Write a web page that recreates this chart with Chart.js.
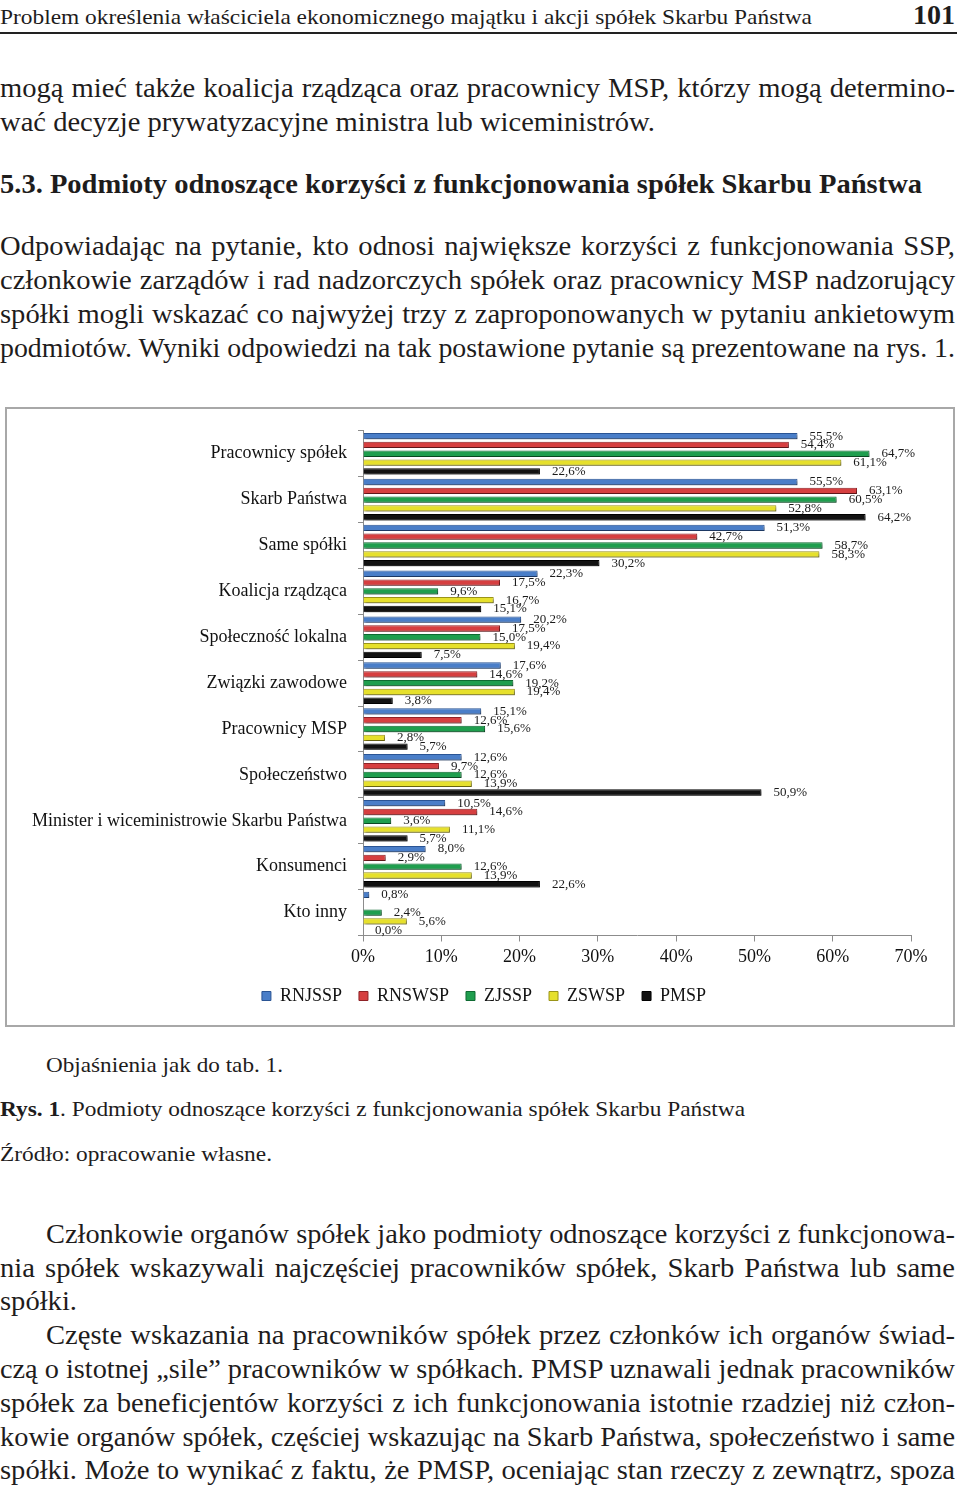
<!DOCTYPE html>
<html lang="pl">
<head>
<meta charset="utf-8">
<title>Podmioty odnoszące korzyści z funkcjonowania spółek Skarbu Państwa</title>
<script src="https://cdn.jsdelivr.net/npm/chart.js@4.4.1/dist/chart.umd.min.js"></script>
<style>
  html, body { margin: 0; padding: 0; background: #fff; }
  body { width: 960px; height: 1487px; position: relative; overflow: hidden;
         font-family: 'Liberation Serif', 'Times New Roman', serif; color: #1e1c1c; }
  .ln { position: absolute; white-space: nowrap; transform-origin: 0 50%; }
  .f28 { font-size: 28px; line-height: 34px; }
  .f22 { font-size: 22px; line-height: 26px; }
  .f21 { font-size: 21px; line-height: 26px; }
  .b { font-weight: bold; }
  #rule { position: absolute; left: 0; top: 32px; width: 957px; height: 2px; background: #222; }
  #chartBox { position: absolute; left: 5px; top: 407px; width: 950px; height: 620px;
              border: 2px solid #a8a8a8; box-sizing: border-box; }
  #chartWrap { position: relative; width: 946px; height: 616px; }
</style>
</head>
<body>

<div class="ln f21" style="left:0;top:4px" data-w="812">Problem określenia właściciela ekonomicznego majątku i akcji spółek Skarbu Państwa</div>
<div class="ln f28 b" style="left:913px;top:-2px" data-w="42">101</div>
<div id="rule"></div>

<div class="ln f28 full" style="left:0;top:71px" data-w="955">mogą mieć także koalicja rządząca oraz pracownicy MSP, którzy mogą determino-</div>
<div class="ln f28 ref" style="left:0;top:105px" data-w="655">wać decyzje prywatyzacyjne ministra lub wiceministrów.</div>

<div class="ln f28 b" style="left:0;top:167px" data-w="922">5.3. Podmioty odnoszące korzyści z funkcjonowania spółek Skarbu Państwa</div>

<div class="ln f28 full" style="left:0;top:229px" data-w="955">Odpowiadając na pytanie, kto odnosi największe korzyści z funkcjonowania SSP,</div>
<div class="ln f28 full" style="left:0;top:263px" data-w="955">członkowie zarządów i rad nadzorczych spółek oraz pracownicy MSP nadzorujący</div>
<div class="ln f28 full" style="left:0;top:297px" data-w="955">spółki mogli wskazać co najwyżej trzy z zaproponowanych w pytaniu ankietowym</div>
<div class="ln f28 full" style="left:0;top:331px" data-w="955">podmiotów. Wyniki odpowiedzi na tak postawione pytanie są prezentowane na rys. 1.</div>

<div id="chartBox"><div id="chartWrap"><canvas id="benefitChart"></canvas></div></div>

<div class="ln f22" style="left:46px;top:1052px" data-w="237">Objaśnienia jak do tab. 1.</div>
<div class="ln f22" style="left:0;top:1096px" data-w="745"><span class="b">Rys. 1</span>. Podmioty odnoszące korzyści z funkcjonowania spółek Skarbu Państwa</div>
<div class="ln f22" style="left:0;top:1141px" data-w="272">Źródło: opracowanie własne.</div>

<div class="ln f28 full" style="left:46px;top:1217px" data-w="909">Członkowie organów spółek jako podmioty odnoszące korzyści z funkcjonowa-</div>
<div class="ln f28 full" style="left:0;top:1251px" data-w="955">nia spółek wskazywali najczęściej pracowników spółek, Skarb Państwa lub same</div>
<div class="ln f28" style="left:0;top:1284px" data-w="77">spółki.</div>
<div class="ln f28 full" style="left:46px;top:1318px" data-w="909">Częste wskazania na pracowników spółek przez członków ich organów świad-</div>
<div class="ln f28 full" style="left:0;top:1352px" data-w="955">czą o istotnej „sile” pracowników w spółkach. PMSP uznawali jednak pracowników</div>
<div class="ln f28 full" style="left:0;top:1386px" data-w="955">spółek za beneficjentów korzyści z ich funkcjonowania istotnie rzadziej niż człon-</div>
<div class="ln f28 full" style="left:0;top:1420px" data-w="955">kowie organów spółek, częściej wskazując na Skarb Państwa, społeczeństwo i same</div>
<div class="ln f28 full" style="left:0;top:1453px" data-w="955">spółki. Może to wynikać z faktu, że PMSP, oceniając stan rzeczy z zewnątrz, spoza</div>

<script>
// ── data ─────────────────────────────────────────────
const categories = [
  'Pracownicy spółek', 'Skarb Państwa', 'Same spółki', 'Koalicja rządząca',
  'Społeczność lokalna', 'Związki zawodowe', 'Pracownicy MSP', 'Społeczeństwo',
  'Minister i wiceministrowie Skarbu Państwa', 'Konsumenci', 'Kto inny'
];
const seriesNames = ['RNJSSP', 'RNSWSP', 'ZJSSP', 'ZSWSP', 'PMSP'];
const rnjssp = [55.5, 55.5, 51.3, 22.3, 20.2, 17.6, 15.1, 12.6, 10.5, 8.0, 0.8];
const rnswsp = [54.4, 63.1, 42.7, 17.5, 17.5, 14.6, 12.6, 9.7, 14.6, 2.9, null];
const zjssp  = [64.7, 60.5, 58.7, 9.6, 15.0, 19.2, 15.6, 12.6, 3.6, 12.6, 2.4];
const zswsp  = [61.1, 52.8, 58.3, 16.7, 19.4, 19.4, 2.8, 13.9, 11.1, 13.9, 5.6];
const pmsp   = [22.6, 64.2, 30.2, 15.1, 7.5, 3.8, 5.7, 50.9, 5.7, 22.6, 0.0];
const xTicks = [0, 10, 20, 30, 40, 50, 60, 70];

const fills   = ['#4a7ec8', '#d63f40', '#1f9e4e', '#e6e02c', '#121212'];
const borders = ['#2a5494', '#8e2226', '#0f6a32', '#9a9418', '#000000'];

// ── text lines: fit each line to its width in the page ──
const refLine = document.querySelector('.ln.ref');
const baseScale = 655 / refLine.getBoundingClientRect().width;
document.querySelectorAll('.ln').forEach(el => {
  const target = +el.dataset.w;
  const nat = el.getBoundingClientRect().width;
  if (el.classList.contains('full') && nat * baseScale <= target) {
    el.style.width = (target / baseScale) + 'px';
    el.style.textAlign = 'justify';
    el.style.textAlignLast = 'justify';
    el.style.transform = `scaleX(${baseScale})`;
  } else {
    el.style.transform = `scaleX(${target / nat})`;
  }
});

// ── chart ────────────────────────────────────────────
Chart.defaults.font.family = "'Liberation Serif', 'Times New Roman', serif";
Chart.defaults.color = '#111';

const fmtPct = v => v.toFixed(1).replace('.', ',') + '%';

const barShadow = {
  id: 'barShadow',
  beforeDatasetsDraw(chart) {
    const c = chart.ctx;
    c.save();
    c.shadowColor = 'rgba(0,0,0,0.35)';
    c.shadowBlur = 2;
    c.shadowOffsetX = 2;
    c.shadowOffsetY = 2;
  },
  afterDatasetsDraw(chart) { chart.ctx.restore(); }
};

const valueLabels = {
  id: 'valueLabels',
  afterDatasetsDraw(chart) {
    const c = chart.ctx;
    c.save();
    c.font = "13px 'Liberation Serif', serif";
    c.fillStyle = '#1a1a1a';
    c.textBaseline = 'middle';
    chart.data.datasets.forEach((ds, i) => {
      chart.getDatasetMeta(i).data.forEach((bar, j) => {
        const v = ds.data[j];
        if (v == null) return;
        c.fillText(fmtPct(v), bar.x + 12, bar.y);
      });
    });
    c.restore();
  }
};

// legend sits a bit right of the canvas centre in the original
const legendShift = {
  id: 'legendShift',
  afterLayout(chart) { chart.legend.left += 25; chart.legend.right += 25; }
};

const seriesData = [rnjssp, rnswsp, zjssp, zswsp, pmsp];

new Chart(document.getElementById('benefitChart'), {
  type: 'bar',
  data: {
    labels: categories,
    datasets: seriesNames.map((name, i) => ({
      label: name,
      data: seriesData[i],
      backgroundColor: fills[i],
      borderColor: borders[i],
      borderWidth: 1,
      barPercentage: 0.72,
      categoryPercentage: 0.96
    }))
  },
  options: {
    indexAxis: 'y',
    responsive: true, maintainAspectRatio: false,
    animation: false,
    layout: { padding: { top: 20, right: 42, bottom: 10, left: 0 } },
    plugins: {
      legend: {
        position: 'bottom',
        labels: { boxWidth: 9, boxHeight: 9, padding: 17, color: '#111', font: { size: 18 } }
      },
      tooltip: { enabled: false }
    },
    scales: {
      x: {
        min: 0, max: 70,
        afterBuildTicks: s => { s.ticks = xTicks.map(v => ({ value: v })); },
        afterFit: s => { s.height = 34.5; },
        ticks: { color: '#111', font: { size: 18 }, padding: 5, callback: v => v + '%' },
        grid: { drawOnChartArea: false, tickLength: 6, color: '#8c8c8c' },
        border: { color: '#8c8c8c' }
      },
      y: {
        afterFit: s => { s.width = 356; },
        ticks: { color: '#111', font: { size: 18 }, padding: 11 },
        grid: { drawOnChartArea: false, tickLength: 5, color: '#8c8c8c' },
        border: { color: '#8c8c8c' }
      }
    }
  },
  plugins: [barShadow, valueLabels, legendShift]
});
</script>
</body>
</html>
